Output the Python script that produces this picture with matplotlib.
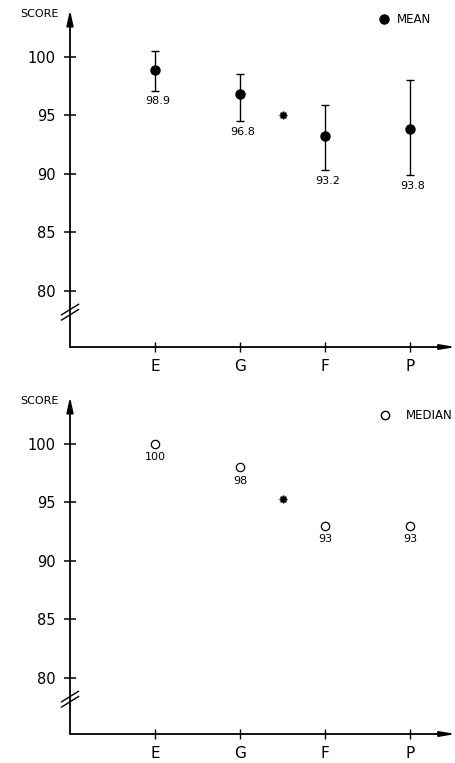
import numpy as np
import matplotlib
matplotlib.use('Agg')
import matplotlib.pyplot as plt
from matplotlib.lines import Line2D
import matplotlib.transforms as mtransforms

# data
groups = ['E', 'G', 'F', 'P']
mean_vals = [98.9, 96.8, 93.2, 93.8]
mean_err_hi = [100.5, 98.5, 95.9, 98.0]
mean_err_lo = [97.1, 94.5, 90.3, 89.9]
mean_labels = ['98.9', '96.8', '93.2', '93.8']
mean_overall = 95.0

median_vals = [100, 98, 93, 93]
median_labels = ['100', '98', '93', '93']
median_overall = 95.3

y_ticks = [80, 85, 90, 95, 100]

plt.rcParams['font.family'] = 'DejaVu Sans'

fig = plt.figure(figsize=(4.56, 7.63), dpi=100)
ax_top = fig.add_axes([70/456, (763-347)/763, 386/456, 337/763])
ax_bot = fig.add_axes([70/456, (763-734)/763, 386/456, 337/763])

x = np.arange(1, len(groups) + 1)


def setup_axis(ax):
    ax.set_xlim(0, 386/85)
    ax.set_ylim(75.2, 104)
    for s in ax.spines.values():
        s.set_visible(False)
    ax.set_yticks(y_ticks)
    ax.set_yticklabels([str(t) for t in y_ticks], fontsize=10.5)
    ax.set_xticks(x)
    ax.set_xticklabels(groups, fontsize=11)
    ax.tick_params(axis='y', direction='inout', length=9, width=1.1, pad=6)
    ax.tick_params(axis='x', direction='inout', length=7, width=1.0, pad=5)
    # axis lines with arrow heads
    ax.annotate('', xy=(0, 1.0), xytext=(0, 0), xycoords='axes fraction',
                arrowprops=dict(arrowstyle='-|>,head_length=0.9,head_width=0.2',
                                lw=1.3, color='black', shrinkA=0, shrinkB=0))
    ax.annotate('', xy=(1.0, 0), xytext=(0, 0), xycoords='axes fraction',
                arrowprops=dict(arrowstyle='-|>,head_length=0.9,head_width=0.15',
                                lw=1.3, color='black', shrinkA=0, shrinkB=0))
    # axis break marks
    trans = mtransforms.blended_transform_factory(ax.transAxes, ax.transData)
    for dy in [0.0, 0.45]:
        ax.plot([-0.022, 0.022], [77.5 + dy, 78.4 + dy], color='black', lw=1.0,
                transform=trans, clip_on=False)
    ax.text(-0.03, 0.988, 'SCORE', transform=ax.transAxes, ha='right', va='center',
            fontsize=8)


setup_axis(ax_top)
setup_axis(ax_bot)

# top panel - mean with ranges
yerr = [np.array(mean_vals) - np.array(mean_err_lo), np.array(mean_err_hi) - np.array(mean_vals)]
ax_top.errorbar(x, mean_vals, yerr=yerr, fmt='o', color='black', markersize=6.5,
                ecolor='black', elinewidth=1.0, capsize=3, capthick=1.0)
for i in range(len(groups)):
    ax_top.annotate(mean_labels[i], (x[i], mean_err_lo[i]), xytext=(2, -4),
                    textcoords='offset points', ha='center', va='top', fontsize=8)
ax_top.plot([2.5], [mean_overall], marker=(8, 1, 0), color='black', markersize=5.5)
h1 = Line2D([], [], marker='o', color='black', linestyle='none', markersize=6.5)
ax_top.legend([h1], ['MEAN'], loc='upper right', bbox_to_anchor=(0.935, 0.99),
              borderaxespad=0, borderpad=0, frameon=False, handletextpad=0.6,
              handlelength=1.0, fontsize=8.5)

# bottom panel - median
ax_bot.plot(x, median_vals, 'o', markerfacecolor='white', markeredgecolor='black',
            markersize=6, markeredgewidth=0.9)
for i in range(len(groups)):
    ax_bot.annotate(median_labels[i], (x[i], median_vals[i]), xytext=(0, -6),
                    textcoords='offset points', ha='center', va='top', fontsize=8)
ax_bot.plot([2.5], [median_overall], marker=(8, 1, 0), color='black', markersize=5.5)
h2 = Line2D([], [], marker='o', markerfacecolor='white', markeredgecolor='black',
            linestyle='none', markersize=6)
ax_bot.legend([h2], ['MEDIAN'], loc='upper right', bbox_to_anchor=(0.99, 0.965),
              borderaxespad=0, borderpad=0, frameon=False, handletextpad=1.2,
              handlelength=1.0, fontsize=8.5)

fig.savefig('out.png', dpi=100)
